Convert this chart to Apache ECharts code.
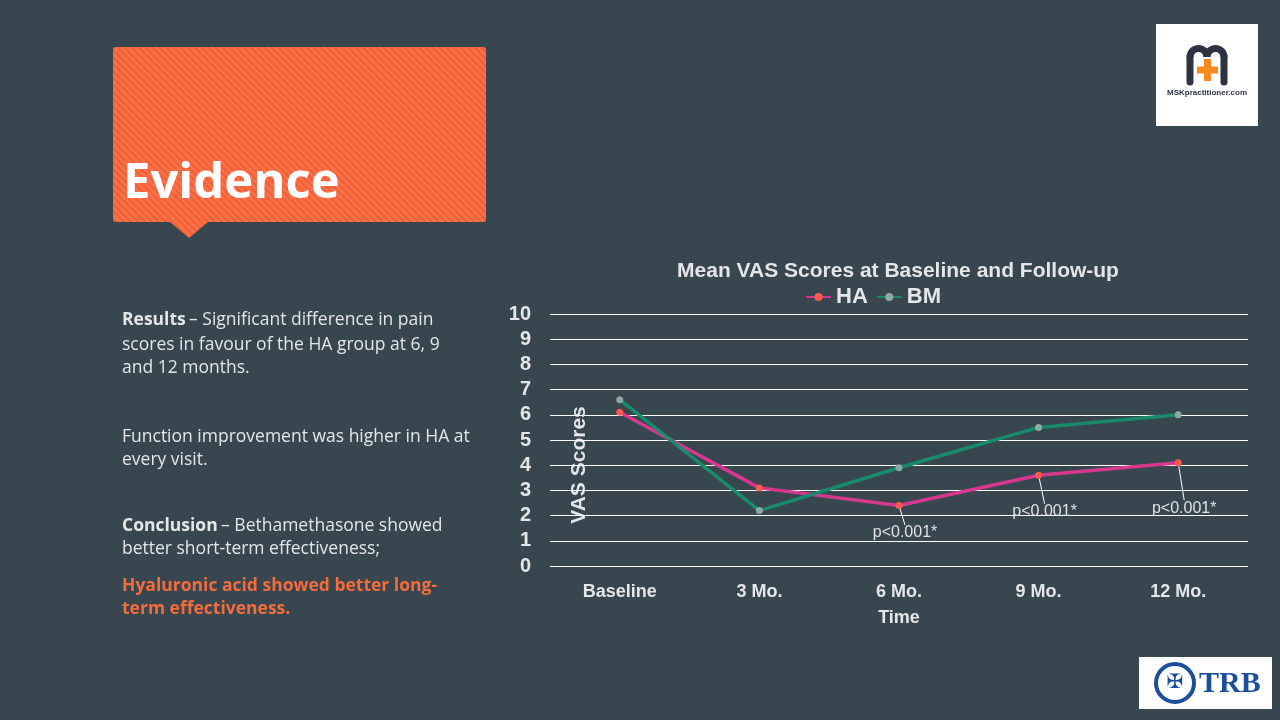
<!DOCTYPE html>
<html><head><meta charset="utf-8">
<script src="https://cdn.jsdelivr.net/npm/echarts@6/dist/echarts.min.js"></script>
<style>html,body{margin:0;padding:0;background:#37464f;}#c{width:1280px;height:720px;}</style>
</head><body><div id="c"></div>
<script>
const categories = ['Baseline', '3 Mo.', '6 Mo.', '9 Mo.', '12 Mo.'];
const haValues = [6.1, 3.1, 2.4, 3.6, 4.1];
const bmValues = [6.6, 2.2, 3.9, 5.5, 6.0];
const pLabels = ['', '', 'p<0.001*', 'p<0.001*', 'p<0.001*'];
const yTicks = [0, 1, 2, 3, 4, 5, 6, 7, 8, 9, 10];

// layout offsets for the p-value labels (not data)
const pDy = [0, 0, 11, 20, 29];

// striped pattern for the banner
const stripe = document.createElement('canvas');
stripe.width = 7; stripe.height = 7;
(function () {
  const g = stripe.getContext('2d');
  g.fillStyle = '#fc7048'; g.fillRect(0, 0, 7, 7);
  g.strokeStyle = '#ee6139'; g.lineWidth = 2;
  g.beginPath();
  g.moveTo(-1, -1); g.lineTo(8, 8);
  g.moveTo(-8, -1); g.lineTo(1, 8);
  g.moveTo(6, -1); g.lineTo(15, 8);
  g.stroke();
})();

const chart = echarts.init(document.getElementById('c'));
const txt = '#e4e6e8';
const bold = {fontFamily: 'Liberation Sans, Arial, sans-serif', fontWeight: 'bold', color: txt};
const body = '17.5px "Open Sans", sans-serif';
const bodyB = 'bold 17.5px "Open Sans", sans-serif';

const haData = haValues.map((v, i) => ({
  value: v,
  label: {show: pLabels[i] !== ''},
  labelLine: {show: pLabels[i] !== ''}
}));

chart.setOption({
  backgroundColor: '#37464f',
  animation: false,
  title: {
    text: 'Mean VAS Scores at Baseline and Follow-up',
    left: 893, top: 256, textAlign: 'center',
    textStyle: Object.assign({fontSize: 21}, bold)
  },
  legend: {
    top: 281, left: 800,
    data: ['HA', 'BM'],
    itemWidth: 25, itemHeight: 10, itemGap: 8,
    textStyle: Object.assign({fontSize: 22}, bold)
  },
  grid: {left: 550, right: 32, top: 314, bottom: 154, containLabel: false},
  xAxis: {
    type: 'category', data: categories, boundaryGap: true,
    axisLine: {show: false}, axisTick: {show: false},
    axisLabel: Object.assign({fontSize: 18, margin: 17}, bold),
    name: 'Time', nameLocation: 'middle', nameGap: 43,
    nameTextStyle: Object.assign({fontSize: 18}, bold)
  },
  yAxis: {
    type: 'value', min: yTicks[0], max: yTicks[yTicks.length - 1], interval: 1,
    axisLine: {show: false}, axisTick: {show: false},
    axisLabel: Object.assign({fontSize: 20, margin: 19}, bold),
    splitLine: {lineStyle: {color: '#ffffff', width: 1}}
  },
  series: [
    {
      name: 'HA', type: 'line', data: haData,
      symbol: 'circle', symbolSize: 7,
      lineStyle: {color: '#d6388f', width: 3.5},
      itemStyle: {color: '#ff5a52'},
      z: 2,
      label: {
        position: 'bottom', distance: 5,
        formatter: p => pLabels[p.dataIndex],
        color: '#e0e2e4', fontSize: 16, fontFamily: 'Liberation Sans, Arial, sans-serif'
      },
      labelLine: {lineStyle: {color: '#ffffff', width: 1}},
      labelLayout: p => ({dx: 6, dy: pDy[p.dataIndex]})
    },
    {
      name: 'BM', type: 'line', data: bmValues,
      symbol: 'circle', symbolSize: 7,
      lineStyle: {color: '#198a6c', width: 3.5},
      itemStyle: {color: '#8ea8a2'},
      z: 3
    }
  ],
  graphic: [
    {type: 'rect', shape: {x: 113, y: 47, width: 373, height: 175, r: 3}, style: {fill: {image: stripe, repeat: 'repeat'}}},
    {type: 'polygon', shape: {points: [[170, 222], [208, 222], [189, 238]]}, style: {fill: {image: stripe, repeat: 'repeat'}}},
    {type: 'text', x: 123, y: 184, style: {text: 'Evidence', fill: '#ffffff', font: 'bold 49px "Open Sans", Lato, sans-serif', textVerticalAlign: 'middle'}},
    {type: 'text', x: 122, y: 311, style: {rich: {b: {font: bodyB, fill: txt}, n: {font: body, fill: txt}},
      text: '{b|Results} {n|– Significant difference in pain}'}},
    {type: 'text', x: 122, y: 334, style: {text: 'scores in favour of the HA group at 6, 9\nand 12 months.', font: body, fill: txt, lineHeight: 23}},
    {type: 'text', x: 122, y: 426, style: {text: 'Function improvement was higher in HA at\nevery visit.', font: body, fill: txt, lineHeight: 23}},
    {type: 'text', x: 122, y: 517, style: {rich: {b: {font: bodyB, fill: txt}, n: {font: body, fill: txt}},
      text: '{b|Conclusion} {n|– Bethamethasone showed}'}},
    {type: 'text', x: 122, y: 540, style: {text: 'better short-term effectiveness;', font: body, fill: txt}},
    {type: 'text', x: 122, y: 575, style: {text: 'Hyaluronic acid showed better long-\nterm effectiveness.', font: bodyB, fill: '#f26c3c', lineHeight: 23}},
    {type: 'text', x: 579, y: 465, rotation: Math.PI / 2,
      style: {text: 'VAS Scores', font: 'bold 21px "Liberation Sans", Arial, sans-serif', fill: txt, textAlign: 'center', textVerticalAlign: 'middle'}},
    // MSK logo
    {type: 'rect', shape: {x: 1156, y: 24, width: 102, height: 102}, style: {fill: '#ffffff'}},
    {type: 'arc', shape: {cx: 1198.5, cy: 57, r: 8.5, startAngle: Math.PI, endAngle: 2 * Math.PI, clockwise: true}, style: {stroke: '#2d3340', lineWidth: 7, fill: null}},
    {type: 'arc', shape: {cx: 1215.5, cy: 57, r: 8.5, startAngle: Math.PI, endAngle: 2 * Math.PI, clockwise: true}, style: {stroke: '#2d3340', lineWidth: 7, fill: null}},
    {type: 'line', shape: {x1: 1190, y1: 57, x2: 1190, y2: 82}, style: {stroke: '#2d3340', lineWidth: 7, lineCap: 'round'}},
    {type: 'line', shape: {x1: 1224, y1: 57, x2: 1224, y2: 82}, style: {stroke: '#2d3340', lineWidth: 7, lineCap: 'round'}},
    {type: 'rect', shape: {x: 1204, y: 59, width: 7, height: 22}, style: {fill: '#f58a1f'}},
    {type: 'rect', shape: {x: 1197, y: 66.5, width: 21, height: 7}, style: {fill: '#f58a1f'}},
    {type: 'text', x: 1207, y: 93, style: {text: 'MSKpractitioner.com', font: 'bold 8px "Liberation Sans", Arial, sans-serif', fill: '#2d3340', textAlign: 'center', textVerticalAlign: 'middle'}},
    // TRB logo
    {type: 'rect', shape: {x: 1139, y: 657, width: 133, height: 52}, style: {fill: '#ffffff'}},
    {type: 'circle', shape: {cx: 1175, cy: 683, r: 19}, style: {fill: null, stroke: '#1b4f9c', lineWidth: 4}},
    {type: 'text', x: 1175, y: 683, style: {text: '✠', font: 'bold 20px "DejaVu Sans", sans-serif', fill: '#1b4f9c', textAlign: 'center', textVerticalAlign: 'middle'}},
    {type: 'text', x: 1199, y: 684, style: {text: 'TRB', font: 'bold 30px "Liberation Serif", "DejaVu Serif", serif', fill: '#1b4f9c', textVerticalAlign: 'middle'}}
  ]
});
</script></body></html>
